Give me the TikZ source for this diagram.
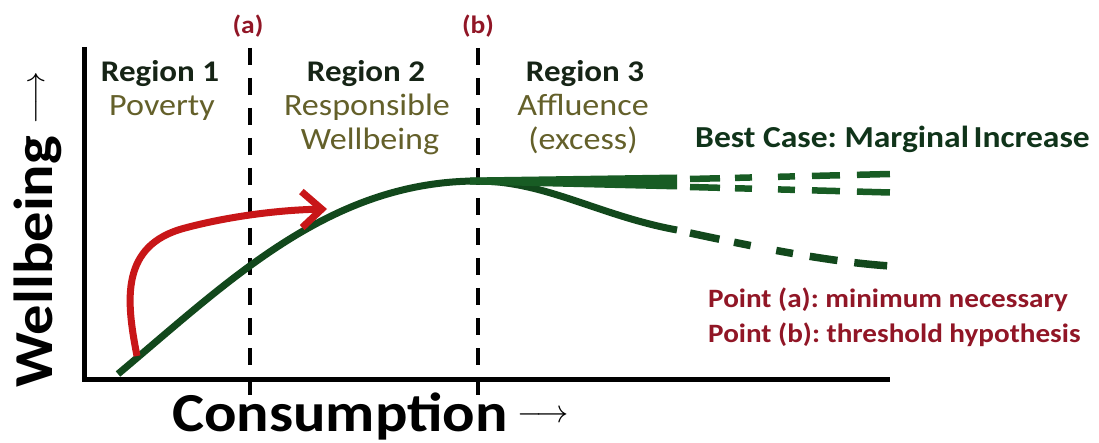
\documentclass[tikz,border=0pt]{standalone}
\usepackage{fontspec}
\setmainfont{Carlito}[FakeStretch=1.1]
\usetikzlibrary{arrows.meta}
\definecolor{curvegreen}{RGB}{18,72,28}
\definecolor{bandgreen}{RGB}{24,92,36}
\definecolor{arrowred}{RGB}{200,22,24}
\definecolor{pointred}{RGB}{145,22,38}
\definecolor{regionink}{RGB}{22,36,22}
\definecolor{subolive}{RGB}{100,96,42}
\definecolor{caseink}{RGB}{16,52,26}
\frenchspacing
\tikzset{
  regtitle/.style={font=\fontsize{30}{34}\selectfont\bfseries, text=regionink, anchor=base, inner sep=0pt},
  regsub/.style={font=\fontsize{31}{34}\selectfont, text=subolive, anchor=base, inner sep=0pt},
  ptlabel/.style={font=\fontsize{26.5}{30}\selectfont\bfseries, text=pointred, anchor=base west, inner sep=0pt},
  marklabel/.style={font=\fontsize{25}{30}\selectfont\bfseries, text=pointred, anchor=base, inner sep=0pt},
  caselabel/.style={font=\fontsize{30.5}{34}\selectfont\bfseries, text=caseink, anchor=base west, inner sep=0pt},
  axislabel/.style={font=\fontsize{55}{60}\selectfont\bfseries, text=black, inner sep=0pt},
  arrowglyph/.style={inner sep=0pt, text=black},
  axisline/.style={line width=5pt, black},
  divider/.style={line width=4pt, black, dash pattern=on 17pt off 13pt},
  mainline/.style={line width=7pt, curvegreen},
  futuredash/.style={line width=6pt, curvegreen, dash pattern=on 30pt off 15pt on 17pt off 26pt on 17pt off 17pt on 28pt off 17pt on 33pt off 40pt},
}
\begin{document}
\begin{tikzpicture}[x=1pt,y=-1pt]
\useasboundingbox (0,0) rectangle (1099,443);
\fill[white] (0,0) rectangle (1099,443);

% coordinates
\coordinate (ytop) at (84,47);
\coordinate (origin) at (84,379);
\coordinate (xend) at (890,379);
\coordinate (atop) at (250,48);
\coordinate (abot) at (250,402);
\coordinate (btop) at (478,48);
\coordinate (bbot) at (478,402);
\coordinate (cstart) at (118,374);
\coordinate (peak) at (478,181);
\coordinate (lowend) at (677,230);
\coordinate (lowdash) at (690,233);
\coordinate (lowfar) at (890,266);
\coordinate (updashA) at (690,179);
\coordinate (upfarA) at (890,174);
\coordinate (updashB) at (690,187);
\coordinate (upfarB) at (890,192.5);
\coordinate (redstart) at (137,356);
\coordinate (redbend) at (185,228);
\coordinate (redtip) at (327,209);

% axes
\draw[axisline, line join=miter] (ytop) -- (origin) -- (xend);

% dividers
\draw[divider] (atop) -- (abot);
\draw[divider] (btop) -- (bbot);

% main curve
\draw[mainline] (cstart) .. controls (230,280) and (330,181) .. (peak);
% lower branch
\draw[mainline] (peak) .. controls (545,181) and (600,216) .. (lowend);
\draw[futuredash, line width=7.5pt] (lowdash) .. controls (760,248) and (830,262) .. (lowfar);
% upper band (wedge)
\fill[bandgreen] (470,177.5) -- (677,174.5) -- (677,189.5) -- (470,184.5) -- cycle;
\draw[futuredash, bandgreen, line width=6.5pt] (updashA) -- (upfarA);
\draw[futuredash, bandgreen, line width=6.5pt] (updashB) -- (upfarB);

% red arrow
\draw[arrowred, line width=7pt, -{Straight Barb[length=20pt,width=36pt,line width=7pt]}]
  (redstart) .. controls (126,300) and (120,245) .. (redbend)
  .. controls (230,216) and (280,210) .. (redtip);

% markers
\node[marklabel] (ma) at (248,34) {(a)};
\node[marklabel] (mb) at (478,34) {(b)};

% region labels
\node[regtitle] (r1) at (160,82) {Region 1};
\node[regsub] (r1s) at (162,116) {Poverty};
\node[regtitle] (r2) at (366,82) {Region 2};
\node[regsub] (r2s) at (367,116) {Responsible};
\node[regsub] (r2t) at (370,150) {Wellbeing};
\node[regtitle] (r3) at (585,82) {Region 3};
\node[regsub] (r3s) at (583,116) {Affluence};
\node[regsub] (r3t) at (583,150) {(excess)};

\node[caselabel] (best) at (695,148) {Best Case: Marginal\hspace{0.15em}Increase};

\node[ptlabel] (pa) at (708,308) {Point (a): minimum necessary};
\node[ptlabel] (pb) at (708,342) {Point (b): threshold hypothesis};

% axis labels
\node[axislabel, anchor=base west] (xl) at (172,431) {Consumption};
\node[arrowglyph] (xarr) at (543,417) {\resizebox{52pt}{!}{$\longrightarrow$}};
\node[axislabel, anchor=base west, rotate=90] (yl) at (52,388) {Wellbeing};
\node[arrowglyph, rotate=90] (yarr) at (38,98) {\resizebox{53pt}{!}{$\longrightarrow$}};
\end{tikzpicture}
\end{document}
